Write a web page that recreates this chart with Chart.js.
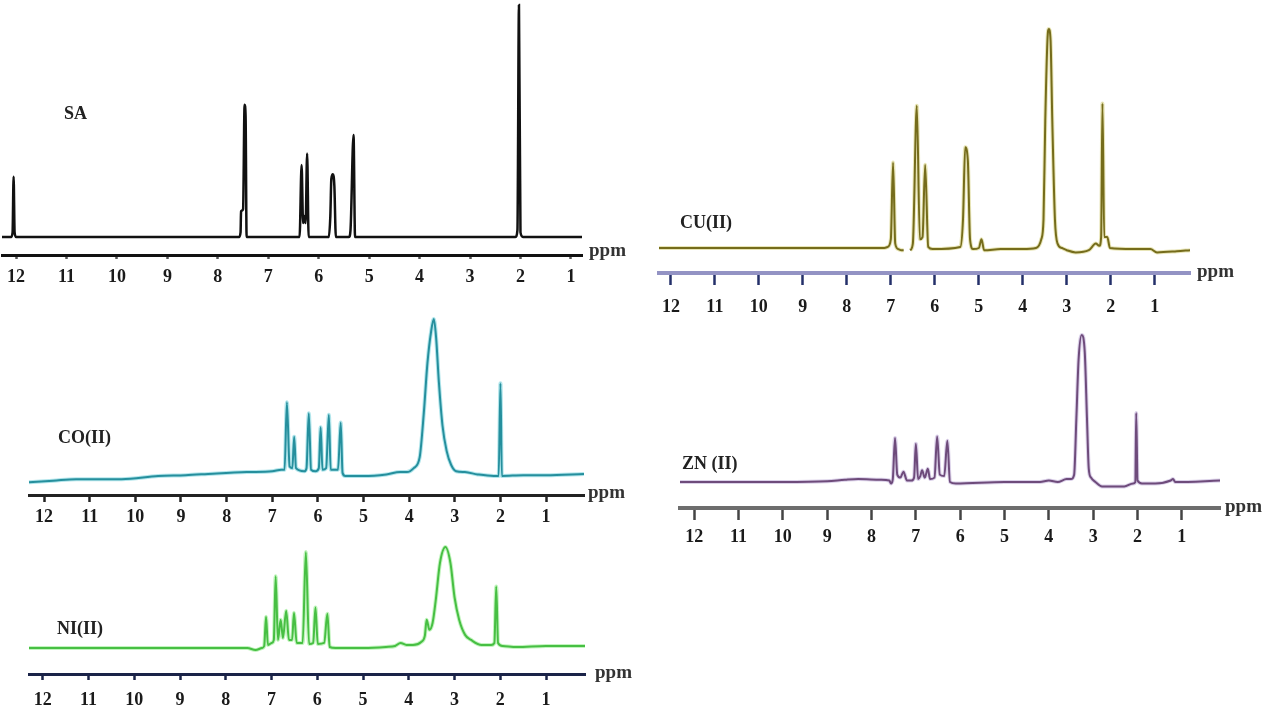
<!DOCTYPE html>
<html>
<head>
<meta charset="utf-8">
<script src="https://cdn.jsdelivr.net/npm/chart.js@4.4.1/dist/chart.umd.min.js"></script>
<style>
  body { margin: 0; background: #fff; width: 1280px; height: 720px; position: relative; overflow: hidden; font-family: "Liberation Serif", serif; }
  canvas { position: absolute; }
  .lbl { position: absolute; font-weight: bold; font-size: 18px; line-height: 1; color: #222; white-space: nowrap; }
  .ppm { position: absolute; font-weight: bold; font-size: 19px; line-height: 1; color: #333; }
</style>
</head>
<body>
<canvas id="sa"></canvas>
<canvas id="co"></canvas>
<canvas id="ni"></canvas>
<canvas id="cu"></canvas>
<canvas id="zn"></canvas>

<div class="lbl" style="left:64px;top:104px">SA</div>
<div class="lbl" style="left:58px;top:428px">CO(II)</div>
<div class="lbl" style="left:57px;top:619px">NI(II)</div>
<div class="lbl" style="left:680px;top:213px">CU(II)</div>
<div class="lbl" style="left:682px;top:454px">ZN (II)</div>

<div class="ppm" style="left:589px;top:240px">ppm</div>
<div class="ppm" style="left:588px;top:482px">ppm</div>
<div class="ppm" style="left:595px;top:662px">ppm</div>
<div class="ppm" style="left:1197px;top:261px">ppm</div>
<div class="ppm" style="left:1225px;top:496px">ppm</div>

<script>
"use strict";

// chemical shift ticks (ppm)
const tickPpm = [12, 11, 10, 9, 8, 7, 6, 5, 4, 3, 2, 1];

// SA ligand
const saPpm = [12.28, 12.1, 12.07, 12.05, 12.03, 12.0, 7.58, 7.55, 7.54, 7.5, 7.47, 7.45, 7.43, 6.38, 6.34, 6.31, 6.29, 6.26, 6.23, 6.2,
  5.8, 5.77, 5.75, 5.72, 5.69, 5.66, 5.4, 5.37, 5.31, 5.28, 2.1, 2.06, 2.03, 2.0, 1.95, 0.78];
const saInt = [0, 0, 2, 26, 2, 0, 0, 2, 11, 12, 57, 52, 0, 0, 31, 6, 9, 6, 36, 0,
  0, 9, 25, 27, 22, 0, 0, 3, 44, 0, 0, 3, 100, 2, 0, 0];

// Co(II) complex
const coPpm = [12.33, 11.8, 11.3, 10.3, 9.5, 8.9, 8.3, 7.56, 7.0, 6.8, 6.73, 6.68, 6.62, 6.56, 6.52, 6.48, 6.3, 6.25, 6.2, 6.15,
  6.05, 5.98, 5.94, 5.9, 5.82, 5.76, 5.72, 5.56, 5.5, 5.46, 5.4, 5.0, 4.5, 4.2, 4.05, 3.9, 3.77, 3.68, 3.6, 3.52,
  3.46, 3.41, 3.35, 3.27, 3.18, 3.08, 2.97, 2.78, 2.5, 2.15, 2.04, 2.0, 1.97, 1.5, 1.0, 0.17];
const coInt = [-4, -3, -2, -2, 0, 0.5, 1.5, 2.5, 3, 4, 4, 47, 6, 5, 25, 5, 3, 5, 40, 4,
  3, 5, 31, 4, 5, 39, 4, 4, 34, 2, 0, 0, 1, 2.5, 2.5, 5, 12, 40, 72, 92,
  100, 88, 60, 32, 16, 7, 3, 2.5, 1, 0, 0, 59, 0, 0.5, 0.5, 1.3];

// Ni(II) complex
const niPpm = [12.3, 10, 8.5, 7.53, 7.35, 7.21, 7.16, 7.12, 7.08, 7.0, 6.95, 6.91, 6.86, 6.8, 6.75, 6.68, 6.62, 6.55, 6.51, 6.45,
  6.32, 6.25, 6.18, 6.09, 6.04, 5.99, 5.85, 5.78, 5.73, 5.6, 5.0, 4.5, 4.3, 4.18, 4.05, 3.91, 3.73, 3.65, 3.61, 3.55,
  3.48, 3.41, 3.32, 3.2, 3.09, 3.0, 2.9, 2.77, 2.64, 2.41, 2.2, 2.13, 2.09, 2.05, 1.95, 1.64, 1.0, 0.15];
const niInt = [0, 0, 0, 0, -2, 0, 2, 31, 3, 5, 8, 71, 8, 28, 10, 37, 8, 8, 35, 5,
  5, 95, 4, 5, 40, 4, 5, 34, 1, 0, 0, 1, 2, 5, 3, 3, 6, 12, 28, 18,
  25, 48, 84, 100, 84, 50, 28, 13, 8, 3, 3, 5, 61, 5, 2, 1, 2, 2];

// Cu(II) complex (null = break in the trace)
const cuPpm = [12.27, 10, 8, 7.15, 7.07, 7.0, 6.95, 6.9, 6.83, 6.76, 6.71, 6.63, 6.56, 6.5, 6.41, 6.34, 6.28, 6.22, 6.15, 6.05,
  5.42, 5.36, 5.31, 5.25, 5.2, 5.13, 5.0, 4.94, 4.88, 4.5, 4.0, 3.7, 3.58, 3.53, 3.49, 3.44, 3.41, 3.37, 3.33, 3.27,
  3.21, 3.11, 3.0, 2.8, 2.5, 2.34, 2.26, 2.22, 2.19, 2.15, 2.08, 2.02, 1.5, 1.1, 0.95, 0.5, 0.2];
const cuInt = [0, 0, 0, 0, 0.5, 4, 39, 2, -0.5, -1, -1, null, -1, 2, 65, 4, 5, 38, 0.5, -0.5,
  0.5, 13, 46, 40, 4, -0.5, 0, 4, -1, -0.5, -0.5, 0, 4, 13, 58, 95, 100, 95, 58, 13,
  2, 0, -1, -2, -1, 2, 1, 5, 66, 5, 5, 0, -0.5, -0.5, -2, -1.5, -1];

// Zn(II) complex
const znPpm = [12.32, 10, 9, 8.6, 8.3, 7.8, 7.6, 7.56, 7.52, 7.47, 7.42, 7.35, 7.28, 7.2, 7.1, 7.04, 7.0, 6.95, 6.9, 6.86,
  6.8, 6.73, 6.68, 6.58, 6.52, 6.46, 6.36, 6.29, 6.23, 6.1, 5.0, 4.2, 4.0, 3.8, 3.6, 3.5, 3.43, 3.38, 3.33, 3.26,
  3.19, 3.14, 3.1, 3.05, 2.95, 2.8, 2.3, 2.1, 2.05, 2.03, 2.0, 1.9, 1.6, 1.25, 1.2, 1.15, 0.14];
const znInt = [0, 0, 0.5, 1.5, 2, 1.5, 1, -1, 2, 30, 5, 3, 7, 1, 1, 3, 26, 2, 4, 8,
  3, 9, 2, 3, 31, 5, 4, 28, 0, -1, 0, 0, 1, 0, 2, 2, 5, 43, 83, 100,
  88, 43, 9, 3, 0, -3, -3, -1, 0, 47, 1, -1, -1, 1, 2, 0, 1];

const tickFont = { family: "'Liberation Serif', serif", size: 18, weight: "bold" };
const PAD = 24, PAD_T = 8, AXIS_H = 44;

function spectrum(id, ppm, inten, p) {
  const canvas = document.getElementById(id);
  canvas.width = p.right - p.left + 2 * PAD;
  canvas.height = p.axisY - p.topY + PAD_T + AXIS_H;
  canvas.style.left = (p.left - PAD) + "px";
  canvas.style.top = (p.topY - PAD_T) + "px";

  const pts = ppm.map((x, i) => ({ x: x, y: inten[i] }));
  const yMin = -(p.axisY - p.baseY) / (p.baseY - p.topY) * 100;
  const sets = [];
  if (p.glow) {
    sets.push({ data: pts, borderColor: p.glow, borderWidth: 4, pointRadius: 0, clip: false, cubicInterpolationMode: "monotone" });
  }
  sets.push({ data: pts, borderColor: p.color, borderWidth: p.lineW, pointRadius: 0, clip: false, cubicInterpolationMode: "monotone" });

  return new Chart(canvas, {
    type: "line",
    data: { datasets: sets },
    options: {
      responsive: false,
      devicePixelRatio: 1,
      animation: false,
      events: [],
      spanGaps: false,
      layout: { padding: { left: PAD, right: PAD, top: PAD_T, bottom: 0 } },
      plugins: { legend: { display: false }, tooltip: { enabled: false } },
      scales: {
        x: {
          type: "linear",
          reverse: true,
          min: p.xMin,
          max: p.xMax,
          afterBuildTicks: (s) => { s.ticks = tickPpm.map(v => ({ value: v })); },
          afterFit: (s) => { s.height = AXIS_H; s.paddingLeft = 0; s.paddingRight = 0; },
          border: { display: true, color: p.axisColor, width: p.axisW },
          grid: { display: true, drawOnChartArea: false, drawTicks: true, tickLength: p.tickLen, tickWidth: 2.5, tickColor: p.tickColor },
          ticks: { font: tickFont, color: "#1a1a1a", padding: p.tickPad, maxRotation: 0, autoSkip: false }
        },
        y: { display: false, min: yMin, max: 100 }
      }
    }
  });
}

spectrum("sa", saPpm, saInt, {
  left: 2, right: 582, axisY: 255, baseY: 237, topY: 5, xMin: 0.78, xMax: 12.28,
  color: "#111", lineW: 2.5, axisColor: "#111", axisW: 3, tickColor: "#555", tickLen: 4, tickPad: 8
});
spectrum("co", coPpm, coInt, {
  left: 29, right: 584, axisY: 495, baseY: 476, topY: 319, xMin: 0.17, xMax: 12.33,
  color: "#17707e", glow: "rgba(60,190,205,0.4)", lineW: 2, axisColor: "#222", axisW: 3, tickColor: "#222", tickLen: 7, tickPad: 5
});
spectrum("ni", niPpm, niInt, {
  left: 29, right: 585, axisY: 674, baseY: 648, topY: 547, xMin: 0.15, xMax: 12.3,
  color: "#1f9e1f", glow: "rgba(120,230,110,0.45)", lineW: 2, axisColor: "#1a2348", axisW: 3, tickColor: "#1a2348", tickLen: 6, tickPad: 10
});
spectrum("cu", cuPpm, cuInt, {
  left: 659, right: 1190, axisY: 273, baseY: 248, topY: 29, xMin: 0.2, xMax: 12.27,
  color: "#4f4510", glow: "rgba(190,180,50,0.35)", lineW: 2, axisColor: "#9393c4", axisW: 4, tickColor: "#24306a", tickLen: 12, tickPad: 12
});
spectrum("zn", znPpm, znInt, {
  left: 680, right: 1220, axisY: 508, baseY: 482, topY: 335, xMin: 0.14, xMax: 12.32,
  color: "#4a2048", glow: "rgba(165,140,200,0.4)", lineW: 2, axisColor: "#6d6d6d", axisW: 4, tickColor: "#444", tickLen: 12, tickPad: 7
});
</script>
</body>
</html>
